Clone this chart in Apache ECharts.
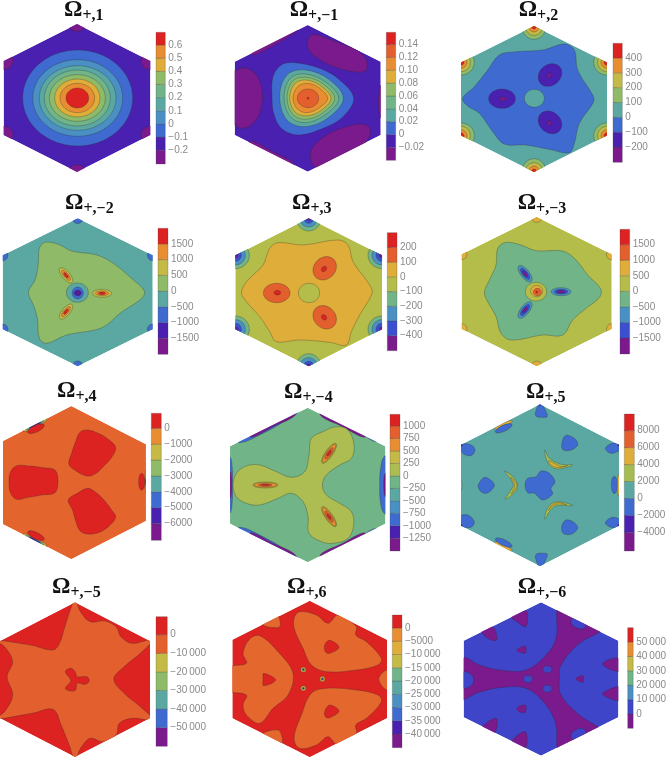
<!DOCTYPE html>
<html>
<head>
<meta charset="utf-8">
<title>Omega panels</title>
<script src="https://cdn.jsdelivr.net/npm/echarts@6/dist/echarts.min.js"></script>
<style>
  html, body { margin: 0; padding: 0; background: #fff; }
  #main { width: 669px; height: 760px; }
</style>
</head>
<body>
<div id="main"></div>
<script>
// panel names (subscript of Omega)
var subscripts = ['+,1', '+,\u22121', '+,2', '+,\u22122', '+,3', '+,\u22123', '+,4', '+,\u22124', '+,5', '+,\u22125', '+,6', '+,\u22126'];

// legend ticks of every panel
var ticks1 = [-0.2, -0.1, 0, 0.1, 0.2, 0.3, 0.4, 0.5, 0.6];
var ticks2 = [-0.02, 0, 0.02, 0.04, 0.06, 0.08, 0.10, 0.12, 0.14];
var ticks3 = [-200, -100, 0, 100, 200, 300, 400];
var ticks4 = [-1500, -1000, -500, 0, 500, 1000, 1500];
var ticks5 = [-400, -300, -200, -100, 0, 100, 200];
var ticks6 = [-1500, -1000, -500, 0, 500, 1000, 1500];
var ticks7 = [-6000, -5000, -4000, -3000, -2000, -1000, 0];
var ticks8 = [-1250, -1000, -750, -500, -250, 0, 250, 500, 750, 1000];
var ticks9 = [-4000, -2000, 0, 2000, 4000, 6000, 8000];
var ticks10 = [-50000, -40000, -30000, -20000, -10000, 0];
var ticks11 = [-40000, -35000, -30000, -25000, -20000, -15000, -10000, -5000, 0];
var ticks12 = [0, 10000, 20000, 30000, 40000, 50000];
var allTicks = [ticks1, ticks2, ticks3, ticks4, ticks5, ticks6, ticks7, ticks8, ticks9, ticks10, ticks11, ticks12];
var tickDecimals = [1, 2, 0, 0, 0, 0, 0, 0, 0, 0, 0, 0];

// ends of the legend bars
var barMin = [-0.305, -0.040, -303, -2009, -502, -2014, -7049, -1504, -6203, -60036, -45157, -9954];
var barMax = [0.697, 0.159, 499, 1998, 300, 1993, 944, 1234, 9967, 9677, 4906, 59954];

// value of the field where no contour region lies on top
var baseValue = [-0.15, -0.01, 50, -250, -50, 250, -500, -125, 1000, 5000, 2000, 5000];

// contour regions, painted in order, in hexagon units (centre 0,0, y up)
// [value, [[x, y], ...]] is a closed curve, [value, x, y, rx, ry, tilt] an oval
var regions1 = [
  [-0.25, 0, 222, 26, 22, 0], [-0.25, 220, 111, 28, 26, 0], [-0.25, 220, -111, 28, 26, 0],
  [-0.25, 0, -222, 26, 22, 0], [-0.25, -220, -111, 28, 26, 0], [-0.25, -220, 111, 28, 26, 0],
  [-0.05, 2, 0, 165, 144, 0], [0.05, 2, 0, 135, 115, 0], [0.15, 2, 0, 115, 97, 0],
  [0.25, 1, 0, 99, 84, 0], [0.35, 1, 0, 84, 70, 0], [0.45, 1, 0, 68, 57, 0],
  [0.55, 1, 0, 52, 44, 0], [0.65, 1, 0, 34, 30, 0]
];
var regions2 = [
  [-0.03, [[1, 175], [16, 192], [76, 173], [146, 145], [176, 115], [174, 83], [136, 80], [66, 100], [11, 135], [-1, 160]]],
  [-0.03, [[8, -175], [16, -145], [66, -105], [136, -80], [176, -80], [189, -100], [176, -130], [126, -170], [56, -205], [21, -205]]],
  [-0.03, [[-240, 90], [-219, 83], [-189, 92], [-154, 70], [-136, 15], [-144, -45], [-169, -80], [-199, -90], [-219, -80], [-240, -80]]],
  [-0.03, [[-164, 130], [-104, 157], [-54, 187], [-29, 205], [-60, 215], [-160, 165]]],
  [-0.03, [[-174, -128], [-104, -160], [-39, -198], [-60, -225], [-180, -165]]],
  [-0.03, 220, -10, 8, 50, 0],
  [0.01, [[-107, 5], [-104, 65], [-79, 100], [-39, 107], [36, 90], [96, 55], [138, 0], [106, -55], [46, -90], [-29, -110], [-79, -90], [-102, -45]]],
  [0.03, [[107, 0], [62, 58], [-8, 85], [-62, 70], [-84, 5], [-62, -65], [-8, -85], [62, -58]]],
  [0.05, [[93, 0], [52, 50], [-8, 73], [-52, 60], [-71, 3], [-52, -55], [-8, -73], [52, -50]]],
  [0.07, [[81, 0], [45, 44], [-6, 63], [-45, 52], [-62, 2], [-45, -48], [-6, -63], [45, -44]]],
  [0.09, [[70, 0], [38, 38], [-5, 55], [-39, 44], [-54, 2], [-39, -40], [-5, -53], [38, -38]]],
  [0.11, [[60, 0], [33, 32], [-3, 45], [-31, 34], [-44, 0], [-31, -32], [-3, -43], [33, -30]]],
  [0.13, 1, 0, 32, 28, 0], [0.15, 1, 0, 3, 3, 0]
];
var regions3 = [
  [-50, [[-214, 2], [-179, 37], [-139, 87], [-104, 132], [-54, 142], [26, 147], [91, 165], [121, 147], [131, 87], [176, 12], [179, -8], [136, -73], [121, -133], [106, -161], [46, -151], [-24, -138], [-89, -135], [-124, -98], [-164, -43], [-199, -21]]],
  [50, 1, 2, 30, 27, 0],
  [-150, -96, 1, 40, 29, 0], [-250, -93, 1, 10, 6, 0],
  [-150, 48, 72, 38, 31, 40], [-250, 46, 71, 8, 6, 45],
  [-150, 48, -70, 38, 31, -40], [-250, 46, -72, 8, 6, -45],
  [150, 0, 219, 36, 40, 0], [250, 0, 219, 26, 28, 0], [350, 0, 219, 16, 18, 0], [450, 0, 219, 8, 9, 0],
  [150, 219, 110, 40, 38, 0], [250, 219, 110, 28, 28, 0], [350, 219, 110, 18, 18, 0], [450, 219, 110, 9, 9, 0],
  [150, 219, -110, 40, 38, 0], [250, 219, -110, 28, 28, 0], [350, 219, -110, 18, 18, 0], [450, 219, -110, 9, 9, 0],
  [150, 0, -219, 36, 40, 0], [250, 0, -219, 26, 28, 0], [350, 0, -219, 16, 18, 0], [450, 0, -219, 8, 9, 0],
  [150, -219, -110, 40, 38, 0], [250, -219, -110, 28, 28, 0], [350, -219, -110, 18, 18, 0], [450, -219, -110, 9, 9, 0],
  [150, -219, 110, 40, 38, 0], [250, -219, 110, 28, 28, 0], [350, -219, 110, 18, 18, 0], [450, -219, 110, 9, 9, 0]
];
var regions4 = [
  [-750, 0, 222, 16, 16, 0], [-750, 225, 111, 16, 16, 0], [-750, 225, -111, 16, 16, 0],
  [-750, 0, -222, 16, 16, 0], [-750, -225, -111, 16, 16, 0], [-750, -225, 111, 16, 16, 0],
  [250, [[-148, 0], [-128, 37], [-118, 87], [-115, 132], [-98, 150], [-58, 144], [-18, 124], [57, 112], [107, 87], [167, 37], [200, 4], [192, -18], [127, -63], [87, -98], [52, -113], [-33, -128], [-93, -153], [-115, -138], [-121, -78], [-133, -38]]],
  [-250, -1, -1, 33, 29, 0], [-750, 0, -2, 17, 18, 0], [-1250, 0, -2, 11, 9, 0], [-1750, 1, -2, 4, 4, 0],
  [750, 73, -3, 29, 12, 0], [1250, 73, -3, 20, 7, 0], [1750, 73, -3, 11, 4, 0],
  [750, -35, 51, 28, 12, -50], [1250, -35, 51, 19, 7, -50], [1750, -35, 51, 10, 4, -50],
  [750, -35, -58, 28, 12, 50], [1250, -35, -58, 19, 7, 50], [1750, -35, -58, 10, 4, 50]
];
var regions5 = [
  [50, [[-202, 0], [-182, 37], [-137, 82], [-117, 132], [-92, 149], [-17, 142], [88, 157], [118, 142], [133, 92], [183, 22], [190, -3], [153, -68], [128, -118], [113, -158], [63, -150], [-27, -143], [-97, -148], [-117, -118], [-147, -73], [-187, -28]]],
  [-50, 1, -2, 32, 29, 0],
  [150, -96, -2, 40, 29, 0], [250, -94, -1, 10, 7, 0],
  [150, 48, 72, 38, 32, 45], [250, 46, 70, 9, 7, 45],
  [150, 48, -75, 38, 32, -45], [250, 46, -75, 9, 7, -45],
  [-150, 0, 222, 37, 38, 0], [-250, 0, 222, 26, 26, 0], [-350, 0, 222, 15, 15, 0], [-450, 0, 222, 7, 7, 0],
  [-150, 220, 111, 42, 40, 0], [-250, 220, 111, 30, 29, 0], [-350, 220, 111, 18, 18, 0], [-450, 220, 111, 8, 8, 0],
  [-150, 220, -111, 42, 40, 0], [-250, 220, -111, 30, 29, 0], [-350, 220, -111, 18, 18, 0], [-450, 220, -111, 8, 8, 0],
  [-150, 0, -222, 37, 38, 0], [-250, 0, -222, 26, 26, 0], [-350, 0, -222, 15, 15, 0], [-450, 0, -222, 7, 7, 0],
  [-150, -220, -111, 42, 40, 0], [-250, -220, -111, 30, 29, 0], [-350, -220, -111, 18, 18, 0], [-450, -220, -111, 8, 8, 0],
  [-150, -220, 111, 42, 40, 0], [-250, -220, 111, 30, 29, 0], [-350, -220, 111, 18, 18, 0], [-450, -220, 111, 8, 8, 0]
];
var regions6 = [
  [750, 0, 224, 16, 16, 0], [750, 225, 112, 16, 16, 0], [750, 225, -112, 16, 16, 0],
  [750, 0, -224, 16, 16, 0], [750, -225, -112, 16, 16, 0], [750, -225, 112, 16, 16, 0],
  [-250, [[-157, -2], [-142, 35], [-122, 80], [-117, 130], [-92, 148], [-47, 140], [-2, 123], [78, 122], [118, 95], [153, 50], [191, 10], [190, -15], [148, -50], [108, -85], [78, -130], [18, -130], [-77, -145], [-107, -125], [-122, -75], [-147, -30]]],
  [250, -2, 0, 32, 28, 0], [750, 0, 2, 18, 17, 0], [1250, 2, -1, 12, 11, 0], [1750, 0, -1, 3, 3, 0],
  [-750, 73, 0, 30, 12, 0], [-1250, 73, 0, 20, 7, 0], [-1750, 73, 0, 12, 4, 0],
  [-750, -35, 54, 30, 13, -52], [-1250, -35, 54, 20, 8, -52], [-1750, -35, 54, 11, 4, -52],
  [-750, -35, -55, 30, 13, 52], [-1250, -35, -55, 20, 8, 52], [-1750, -35, -55, 11, 4, 52]
];
var regions7 = [
  [-1500, 228, 3, 8, 38, 0], [-3500, 228, 3, 6, 25, 0], [-5500, 228, 3, 5, 15, 0],
  [400, 211, 3, 9, 25, 0],
  [-1500, -109, 173, 40, 8, 27], [-3500, -109, 173, 30, 5, 27], [-5500, -109, 173, 20, 3, 27],
  [400, -106, 162, 27, 10, 25],
  [-1500, -109, -173, 40, 8, -27], [-3500, -109, -173, 30, 5, -27], [-5500, -109, -173, 20, 3, -27],
  [400, -106, -159, 27, 10, -25],
  [400, [[-187, 3], [-182, 33], [-164, 51], [-124, 50], [-84, 45], [-49, 38], [-40, 5], [-49, -30], [-89, -37], [-129, -44], [-164, -50], [-182, -32]]],
  [400, [[26, 151], [48, 158], [81, 148], [111, 130], [133, 106], [121, 76], [96, 48], [71, 26], [48, 20], [18, 33], [-7, 55], [1, 88], [14, 126]]],
  [400, [[48, -17], [71, -27], [96, -50], [121, -82], [133, -104], [111, -132], [81, -150], [48, -154], [26, -144], [14, -117], [4, -82], [-9, -52], [18, -32]]]
];
var regions8 = [
  [-875, [[-204, 127], [-134, 155], [-64, 195], [-29, 220], [-60, 240], [-220, 150]]],
  [-1400, [[-170, 143], [-100, 177], [-40, 207], [-40, 230], [-170, 170]]],
  [-875, [[31, 220], [96, 190], [166, 150], [206, 130], [220, 150], [60, 240]]],
  [-1400, [[40, 207], [100, 177], [170, 143], [170, 170], [40, 230]]],
  [-875, [[-204, -127], [-134, -155], [-64, -195], [-29, -220], [-60, -240], [-220, -150]]],
  [-1400, [[-170, -143], [-100, -177], [-40, -207], [-40, -230], [-170, -170]]],
  [-875, [[31, -220], [96, -190], [166, -150], [206, -130], [220, -150], [60, -240]]],
  [-1400, [[40, -207], [100, -177], [170, -143], [170, -170], [40, -230]]],
  [-875, [[229, 85], [218, 45], [216, 0], [218, -50], [229, -85], [250, -85], [250, 85]]],
  [-1400, 233, 0, 5, 35, 0],
  [-875, [[-233, 85], [-226, 45], [-226, 0], [-226, -45], [-233, -85], [-250, -85], [-250, 85]]],
  [-1400, -233, 0, 5, 40, 0],
  [125, [[-224, 0], [-214, 35], [-184, 57], [-144, 60], [-94, 40], [-49, 23], [-9, 40], [4, 90], [11, 140], [46, 160], [86, 175], [121, 165], [139, 120], [131, 80], [96, 60], [56, 30], [44, 0], [56, -30], [96, -55], [131, -80], [138, -120], [121, -160], [76, -175], [41, -170], [4, -145], [1, -95], [-14, -50], [-49, -25], [-89, -40], [-144, -60], [-184, -55], [-214, -35]]],
  [375, -127, 0, 38, 9, 0], [625, -127, 0, 35, 7, 0], [875, -127, 0, 20, 4, 0], [1100, -127, 0, 12, 2, 0],
  [375, 64, 95, 36, 11, 55], [625, 64, 95, 33, 9, 55], [875, 64, 95, 20, 6, 55], [1100, 64, 95, 10, 3, 55],
  [375, 64, -95, 36, 11, -55], [625, 64, -95, 33, 9, -55], [875, 64, -95, 20, 6, -55], [1100, 64, -95, 10, 3, -55]
];
var regions9 = [
  [-1000, [[-45, 1], [-37, 21], [-12, 26], [3, 43], [28, 36], [45, 11], [33, -9], [38, -26], [8, -44], [-17, -24], [-37, -22]]],
  [-1000, [[-185, 1], [-165, 24], [-137, 1], [-160, -24], [-180, -16]]],
  [-1000, [[65, 121], [76, 149], [103, 141], [113, 121], [93, 106], [70, 106]]],
  [-1000, [[65, -124], [78, -104], [103, -112], [113, -129], [93, -147], [70, -144]]],
  [-1000, [[-14, 216], [1, 250], [18, 221], [21, 206], [3, 204], [-10, 206]]],
  [-1000, [[-14, -216], [1, -250], [18, -221], [21, -206], [3, -204], [-10, -206]]],
  [-1000, [[-244, 124], [-207, 121], [-195, 106], [-207, 89], [-232, 96]]],
  [-1000, [[196, 111], [218, 126], [244, 121], [240, 106], [213, 96]]],
  [-1000, [[-240, -94], [-217, -89], [-197, -109], [-207, -126], [-240, -122]]],
  [-1000, [[196, -112], [218, -96], [240, -104], [240, -124], [213, -126]]],
  [-3000, 0, 243, 4, 4, 0], [-3000, 237, 121, 4, 4, 0], [-3000, 237, -121, 4, 4, 0],
  [-3000, -237, 121, 4, 4, 0], [-3000, -237, -121, 4, 4, 0],
  [5000, -110, 180, 30, 6, 27], [5000, -110, -183, 30, 6, -27], [5000, 236, 0, 5, 30, 0], [3000, -237, 0, 3, 15, 0],
  [-1000, -109, 171, 27, 9, 25], [-1000, -109, -172, 27, 9, -25], [-1000, 223, 1, 9, 26, 0],
  [3000, [[-107, 43], [-82, 26], [-67, 1], [-77, -22], [-104, -42], [-87, -14], [-80, 1], [-90, 21]]],
  [5000, [[-88, 24], [-70, 1], [-86, -26], [-76, 1]]],
  [3000, [[15, 106], [28, 81], [63, 63], [98, 61], [58, 49], [33, 56], [18, 81]]],
  [5000, [[26, 74], [63, 56], [83, 59], [53, 53], [33, 61]]],
  [3000, [[98, -61], [58, -49], [33, -56], [18, -79], [15, -102], [28, -79], [48, -62]]],
  [5000, [[80, -59], [55, -52], [35, -60], [26, -75], [35, -64], [55, -56]]]
];
var regions10 = [
  [-5000, [[0, 240], [17, 204], [47, 174], [92, 176], [127, 159], [142, 129], [177, 109], [240, 120], [202, 79], [152, 39], [120, 2], [152, -41], [202, -81], [240, -120], [177, -116], [137, -131], [127, -166], [87, -186], [47, -176], [17, -206], [0, -240], [-18, -196], [-43, -136], [-68, -89], [-133, -101], [-250, -118], [-218, -96], [-193, -46], [-210, 9], [-193, 54], [-218, 99], [-250, 118], [-138, 104], [-68, 89], [-48, 109], [-33, 154], [-13, 214]]],
  [5000, [[-30, 24], [-13, 34], [0, 24], [7, 9], [37, 9], [44, -4], [32, -14], [7, -11], [2, -31], [-13, -34], [-30, -26], [-13, -3]]]
];
var regions11 = [
  [-2500, [[-47, 182], [-30, 202], [20, 192], [55, 167], [85, 192], [140, 157], [138, 132], [170, 112], [215, 62], [205, 42], [140, 27], [50, 22], [5, 42], [-20, 92], [-45, 147]]],
  [2000, [[45, 102], [60, 116], [88, 95], [60, 77], [47, 82]]],
  [-2500, [[-47, -178], [-25, -108], [5, -43], [50, -28], [140, -33], [205, -48], [215, -68], [170, -118], [138, -138], [140, -163], [85, -198], [55, -173], [20, -198], [-30, -208]]],
  [2000, [[45, -98], [60, -78], [88, -96], [60, -116], [47, -113]]],
  [-2500, [[-250, 32], [-190, 47], [-200, 77], [-180, 120], [-150, 130], [-95, 82], [-50, 17], [-65, -48], [-110, -88], [-150, -133], [-190, -108], [-200, -78], [-190, -48], [-250, -33]]],
  [2000, [[-140, 0], [-138, 17], [-102, -3], [-138, -20]]],
  [-2500, [[-140, 162], [-120, 155], [-90, 157], [-92, 187], [-100, 200], [-150, 170]]],
  [-2500, [[-140, -163], [-120, -155], [-90, -156], [-85, -195], [-150, -170]]],
  [-2500, [[232, 27], [207, 0], [232, -33], [250, 0]]],
  [-7500, -19, 28, 8, 8, 0], [-22000, -19, 28, 4, 4, 0], [-37000, -19, 28, 2, 2, 0],
  [-7500, 38, 0, 8, 8, 0], [-22000, 38, 0, 4, 4, 0], [-37000, 38, 0, 2, 2, 0],
  [-7500, -19, -28, 8, 8, 0], [-22000, -19, -28, 4, 4, 0], [-37000, -19, -28, 2, 2, 0]
];
var regions12 = [
  [-5000, [[-233, 62], [-185, 42], [-125, 27], [-45, 27], [15, 72], [45, 122], [48, 212], [60, 240], [200, 170], [177, 142], [115, 107], [60, 42], [55, 2], [60, -48], [115, -108], [177, -148], [200, -175], [60, -240], [48, -208], [45, -138], [15, -78], [-45, -28], [-125, -26], [-185, -40], [-250, -63]]],
  [5000, 112, 167, 24, 15, -25], [5000, 112, -165, 24, 15, 25], [5000, -230, -3, 28, 25, 0],
  [-5000, [[-88, 187], [-45, 204], [-45, 157], [-70, 170]]],
  [-5000, [[-178, 145], [-145, 157], [-133, 117], [-160, 122]]],
  [-5000, [[-73, 87], [-47, 99], [-47, 77], [-62, 80]]],
  [-5000, [[-73, -88], [-47, -78], [-47, -100], [-62, -100]]],
  [-5000, [[-178, -148], [-135, -118], [-135, -156], [-150, -163]]],
  [-5000, [[-88, -188], [-47, -158], [-45, -208], [-65, -203]]],
  [-5000, [[185, 47], [232, 62], [240, 24], [205, 30]]],
  [-5000, [[185, -43], [240, -23], [240, -63], [205, -58]]],
  [-5000, [[105, 0], [125, 10], [127, -10]]],
  [5000, 19, 29, 14, 11, 0], [15000, 19, 29, 2, 2, 0],
  [5000, -39, 0, 14, 11, 0], [15000, -39, 0, 2, 2, 0],
  [5000, 19, -29, 14, 11, 0], [15000, 19, -29, 2, 2, 0]
];
var allRegions = [regions1, regions2, regions3, regions4, regions5, regions6, regions7, regions8, regions9, regions10, regions11, regions12];

// colours
var P = '#7a1a8c', I = '#4a20b0', B = '#3f6bd0', S = '#4a90c2', T = '#5ba8a3', G = '#70b488';
var L = '#8fbb68', Y = '#c4ba45', D = '#dfae3a', O = '#e88d32', R = '#e35f2d', X = '#dd2222';
var barColors = [
  [P, I, B, S, T, G, L, D, O, X],
  [P, I, B, T, G, L, D, O, R, X],
  [P, I, B, T, L, Y, O, X],
  [P, I, B, T, L, Y, O, X],
  [P, '#3b50d0', S, G, '#b5bd4a', D, R, X],
  [P, '#3b50d0', S, G, '#b5bd4a', D, R, X],
  [P, I, B, T, L, Y, O, X],
  [P, I, B, S, T, G, '#aebd52', Y, O, R, X],
  [P, I, B, T, '#a5bd50', D, R, X],
  [P, B, T, L, Y, R, X],
  [P, I, B, S, T, G, Y, D, O, X],
  [P, '#3f45c8', S, G, Y, O, X]
];
// two fields are a bit redder than their legend
var fieldFix = { 6: { 6: '#e4642e' }, 10: { 8: '#e4682e' } };

// layout, in pixels
var hexCenter = [[77, 98], [307.7, 98.3], [534, 99], [77.7, 292.3], [308.7, 292.3], [536.7, 291.7],
  [71.3, 482.7], [307.7, 485], [540, 485.3], [72.7, 679.7], [309.7, 679], [541, 679]];
var hexHalfW = [220, 219, 219, 225, 220, 225, 224, 233, 237, 232, 232, 232];
var hexHalfH = [222, 220, 219, 222, 222, 224, 230, 232, 243, 232, 235, 230];
var hexClipLeft = { 6: 3 };
var UNITS_PER_PX = 3;
// left, right, top, bottom
var barBox = [[156, 165.3, 32.3, 164], [386.3, 395.7, 32.3, 160.3], [613, 622.3, 43.3, 162.3],
  [158, 168, 228.3, 354.3], [387.3, 397, 232.7, 350.7], [620, 629.7, 229.3, 354],
  [151.3, 161.3, 413.3, 540.3], [390, 400, 414.3, 551], [624.3, 634.3, 414, 551],
  [156, 167.3, 616.7, 746.3], [392.3, 402, 615, 747.7], [627.7, 637, 627.7, 728.3]];
var titleLeft = [64, 289.7, 518.7, 65, 292, 517.7, 57, 284, 526, 52, 287, 517.7];
var titleBaseline = [16, 16, 16, 209, 209, 209, 397, 398, 398, 593, 593, 593];

function bandEdges(i) {
  return [barMin[i]].concat(allTicks[i], [barMax[i]]);
}

function fieldColor(i, value) {
  var edges = bandEdges(i);
  var k = 0;
  while (k < edges.length - 2 && value >= edges[k + 1]) k++;
  if (fieldFix[i] && fieldFix[i][k]) return fieldFix[i][k];
  return barColors[i][k];
}

function tickLabel(i) {
  return function (v) {
    var abs = Math.abs(v);
    var digits = v === 0 ? '0' : abs.toFixed(tickDecimals[i]);
    if (abs >= 10000) digits = digits.slice(0, -3) + '\u2009' + digits.slice(-3);
    return (v < 0 ? '\u2212' : '') + digits;
  };
}

var lineStyle = 'rgba(45,45,45,0.5)';

function renderField(i) {
  return function (params, api) {
    var w = hexHalfW[i], h = hexHalfH[i];
    var hex = [[0, h], [w, h / 2], [w, -h / 2], [0, -h], [-w, -h / 2], [-w, h / 2]].map(function (p) {
      return api.coord(p);
    });
    var children = [{ type: 'polygon', shape: { points: hex }, style: { fill: fieldColor(i, baseValue[i]) } }];
    allRegions[i].forEach(function (r) {
      var style = { fill: fieldColor(i, r[0]), stroke: lineStyle, lineWidth: 0.6 };
      if (Array.isArray(r[1])) {
        children.push({
          type: 'polygon',
          shape: { points: r[1].map(function (p) { return api.coord(p); }), smooth: 0.36 },
          style: style
        });
      } else {
        var c = api.coord([r[1], r[2]]);
        children.push({
          type: 'ellipse',
          x: c[0], y: c[1],
          rotation: (r[5] || 0) * Math.PI / 180,
          shape: { cx: 0, cy: 0, rx: r[3] / UNITS_PER_PX, ry: r[4] / UNITS_PER_PX },
          style: style
        });
      }
    });
    return { type: 'group', clipPath: { type: 'polygon', shape: { points: hex } }, children: children };
  };
}

function renderBand(i) {
  return function (params, api) {
    var a = api.coord([0, api.value(1)]);
    var b = api.coord([1, api.value(2)]);
    return {
      type: 'rect',
      shape: { x: a[0], y: b[1], width: b[0] - a[0], height: a[1] - b[1] },
      style: { fill: barColors[i][api.value(3)], stroke: 'rgba(70,70,70,0.45)', lineWidth: 0.6 }
    };
  };
}

var grids = [], xAxes = [], yAxes = [], series = [], titles = [];

for (var i = 0; i < 12; i++) {
  // hexagon field
  var cx = hexCenter[i][0], cy = hexCenter[i][1];
  var leftPx = cx - hexHalfW[i] / UNITS_PER_PX;
  if (hexClipLeft[i] !== undefined) leftPx = hexClipLeft[i];
  grids.push({
    left: leftPx, width: cx + hexHalfW[i] / UNITS_PER_PX - leftPx,
    top: cy - hexHalfH[i] / UNITS_PER_PX, height: 2 * hexHalfH[i] / UNITS_PER_PX
  });
  xAxes.push({ gridIndex: 2 * i, type: 'value', show: false, min: (leftPx - cx) * UNITS_PER_PX, max: hexHalfW[i] });
  yAxes.push({ gridIndex: 2 * i, type: 'value', show: false, min: -hexHalfH[i], max: hexHalfH[i] });
  series.push({
    type: 'custom', xAxisIndex: 2 * i, yAxisIndex: 2 * i, clip: true, silent: true,
    renderItem: renderField(i), data: [[0, 0]]
  });

  // legend bar
  var box = barBox[i];
  grids.push({ left: box[0], width: box[1] - box[0], top: box[2], height: box[3] - box[2] });
  xAxes.push({ gridIndex: 2 * i + 1, type: 'value', show: false, min: 0, max: 1 });
  yAxes.push({
    gridIndex: 2 * i + 1, type: 'value', position: 'right', min: barMin[i], max: barMax[i],
    axisLine: { show: false },
    splitLine: { show: false },
    axisTick: { show: true, length: 4, customValues: allTicks[i], lineStyle: { color: '#8a8a8a', width: 0.8 } },
    axisLabel: {
      show: true, margin: 3, color: '#8a8a8a', fontSize: 10, fontFamily: 'Liberation Sans',
      customValues: allTicks[i], formatter: tickLabel(i)
    }
  });
  var edges = bandEdges(i);
  var bands = [];
  for (var k = 0; k < edges.length - 1; k++) bands.push([0, edges[k], edges[k + 1], k]);
  series.push({
    type: 'custom', xAxisIndex: 2 * i + 1, yAxisIndex: 2 * i + 1, silent: true,
    encode: { x: 0, y: [1, 2] }, renderItem: renderBand(i), data: bands
  });

  titles.push({
    left: titleLeft[i], top: titleBaseline[i] - 17.5, padding: 0,
    text: '{o|\u03a9}{s|' + subscripts[i] + '}',
    textStyle: {
      rich: {
        o: { fontFamily: 'Liberation Serif', fontWeight: 'bold', fontSize: 23, color: '#111', lineHeight: 25, verticalAlign: 'top' },
        s: { fontFamily: 'Liberation Serif', fontWeight: 'bold', fontSize: 16, color: '#111', verticalAlign: 'bottom' }
      }
    }
  });
}

var chart = echarts.init(document.getElementById('main'), null, { renderer: 'canvas' });
chart.setOption({
  animation: false,
  title: titles,
  grid: grids,
  xAxis: xAxes,
  yAxis: yAxes,
  series: series
});
</script>
</body>
</html>
